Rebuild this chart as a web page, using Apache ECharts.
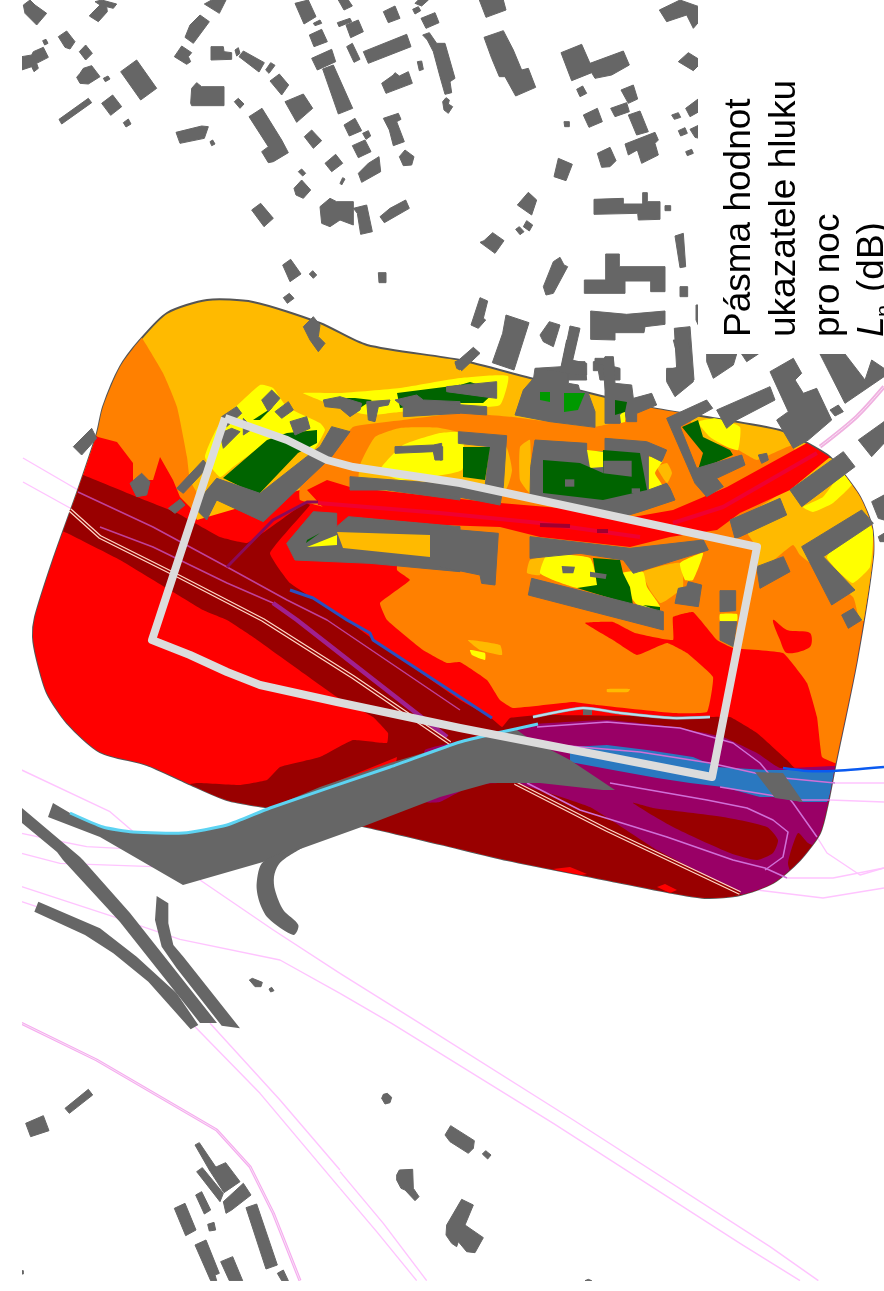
<!DOCTYPE html>
<html><head><meta charset="utf-8">
<style>html,body{margin:0;padding:0;background:#fff}#c{width:884px;height:1291px}</style>
<script src="https://cdn.jsdelivr.net/npm/echarts@6/dist/echarts.min.js"></script>
</head><body><div id="c"></div>
<script>
const shift=(x0,y0,list)=>list.map(p=>p.map(([x,y])=>[x0+x/3,y0+y/3]));

// noise-zone geometry (map units)
const zoneOutline=[[207,300],[167,313],[140,340],[120,367],[103,407],[97,433],[78,490],[53,560],[35,617],[33,637],[37,660],[47,693],[67,723],[100,752],[147,765],[187,783],[227,800],[270,808],[367,827],[440,844],[507,860],[607,880],[673,893],[707,898],[740,895],[773,883],[800,860],[820,833],[828,803],[835,767],[857,660],[873,557],[872,527],[860,497],[843,473],[830,457],[807,443],[780,430],[707,417],[647,407],[530,378],[460,360],[367,345],[320,323],[253,302]];
const orangeWest=[[135,330],[142,338],[163,373],[177,407],[187,457],[190,480],[200,500],[190,530],[70,500],[60,400]];
const redMain=[[85,428],[98,437],[117,442],[133,463],[133,480],[153,480],[160,457],[173,480],[180,497],[190,507],[197,520],[300,490],[330,480],[400,500],[500,510],[640,520],[720,500],[810,445],[830,460],[880,500],[880,930],[650,930],[300,860],[0,800],[0,500]];
const orangeCentre=[[300,487],[330,457],[353,427],[403,420],[460,413],[513,417],[593,427],[625,420],[647,403],[685,410],[700,440],[733,447],[757,460],[793,445],[800,470],[880,480],[880,770],[835,763],[822,757],[817,717],[807,683],[783,653],[733,648],[717,640],[693,612],[673,617],[673,640],[635,633],[613,622],[585,623],[613,640],[637,655],[667,643],[687,653],[713,677],[707,712],[673,713],[597,705],[573,702],[513,708],[500,700],[487,680],[460,662],[447,663],[423,650],[387,620],[380,603],[410,580],[397,570],[400,530],[300,500]];
const redBlobs=[[[773,620],[787,630],[810,633],[810,647],[787,653],[780,640]]];
const roadRed=[[307,490],[327,480],[350,487],[440,497],[500,503],[560,508],[633,517],[673,510],[727,487],[807,443],[830,457],[790,490],[740,513],[717,530],[670,537],[630,547],[540,537],[500,527],[440,525],[330,515]];
const darkRed=[[60,468],[83,475],[137,497],[177,513],[220,537],[247,543],[267,530],[305,503],[310,505],[270,553],[290,583],[347,620],[370,637],[460,700],[490,717],[502,727],[510,718],[540,715],[707,717],[730,717],[757,733],[787,760],[795,768],[880,768],[880,930],[250,900],[170,790],[197,783],[240,785],[267,780],[280,767],[320,757],[353,740],[387,743],[388,733],[373,717],[337,697],[253,637],[227,620],[203,610],[120,560],[67,533],[40,520]];
const purple=[[425,750],[520,730],[537,724],[607,720],[673,727],[723,737],[757,753],[780,768],[880,768],[880,920],[750,920],[742,895],[657,850],[590,807],[515,783],[473,785],[440,802],[425,802]];
const darkRedIslands=[[[633,803],[653,808],[723,817],[767,827],[778,840],[773,853],[757,860],[730,853],[673,827]],[[798,833],[788,863],[793,875],[820,850],[808,843]]];
const blueBand=[[570,747],[607,745],[647,750],[693,757],[717,767],[767,770],[880,770],[880,793],[830,795],[827,802],[803,802],[773,797],[760,797],[723,787],[690,783],[657,778],[613,770],[570,762]];
const redSpots=[[[553,869],[570,867],[587,874],[575,876]],[[657,887],[665,884],[677,890],[670,893]],[[305,796],[340,780],[380,764],[397,757],[396,763],[342,785]]];
const goldPatches=[[[360,465],[375,437],[400,428],[440,428],[505,445],[512,470],[505,490],[360,490]],
 [[775,497],[800,470],[830,458],[880,480],[880,620],[860,620],[853,597],[800,555],[793,545],[760,570],[755,545],[740,520]],
 [[530,560],[547,557],[540,575],[527,573]],[[643,572],[680,563],[683,587],[667,600],[660,603],[650,590]],
 [[520,447],[530,440],[530,493],[520,480]],[[468,640],[500,645],[502,655],[480,650]],[[607,689],[630,689],[628,692],[607,692]],
 [[657,467],[667,463],[672,473],[667,483]]];
const yellowPatches=[[[303,393],[340,393],[400,388],[460,378],[508,376],[500,405],[460,408],[400,412],[370,415],[345,410],[327,403]],
 [[205,457],[220,423],[260,385],[273,388],[287,407],[320,423],[325,430],[313,450],[277,437],[233,467],[220,477]],
 [[380,470],[403,445],[440,433],[462,433],[462,470],[400,480]],
 [[803,507],[823,497],[842,473],[853,483],[833,503],[813,512]],[[827,557],[860,513],[873,530],[870,567],[853,583],[840,573]],
 [[698,422],[717,418],[740,427],[738,450],[727,447],[710,437]],
 [[547,555],[590,558],[597,587],[577,588],[553,580],[540,573]],[[623,573],[643,572],[647,587],[660,607],[640,607],[633,600]],[[680,563],[703,553],[693,580],[685,580]],
 [[648,457],[663,460],[655,473],[663,487],[647,490]],[[470,650],[485,653],[485,660],[472,655]],[[720,614],[737,614],[737,621],[720,621]]];
const greenPatches=[[[223,478],[267,440],[287,433],[317,430],[317,443],[298,453],[258,495]],[[253,420],[273,407],[260,420]],
 [[333,398],[355,398],[372,400],[360,408],[335,406]],[[397,393],[460,385],[470,382],[497,390],[483,403],[440,403],[400,408]],
 [[682,427],[698,420],[703,437],[730,450],[733,455],[698,470],[703,453],[690,437]],
 [[593,558],[620,560],[623,573],[630,587],[633,605],[577,588],[597,585]],[[643,605],[660,607],[660,612]]];
const yardGreen=[[[463,447],[490,447],[485,480],[463,477]],[[543,460],[580,463],[603,473],[603,450],[640,453],[647,490],[603,500],[543,493]],[[615,400],[627,402],[625,412],[615,415]],[[307,540],[320,533],[306,543]]];
const yardBrightGreen=[[[540,392],[550,392],[550,402],[540,400]],[[564,393],[585,393],[578,410],[564,412]]];
const yardYellow=[[[587,450],[605,452],[603,467],[590,468]],[[307,547],[337,535],[337,545],[307,547]],[[620,415],[625,410],[625,422],[621,423]]];
const yardGold=[[[337,532],[430,535],[430,557],[343,548]]];

// buildings, read per map sheet
const buildingsNorthWest=shift(20,0,[[[10,15],[30,0],[45,15],[80,40],[50,75],[15,40]],[[215,40],[240,15],[225,5],[245,0],[290,12],[280,25],[260,20],[262,35],[235,65],[208,48]],[[115,110],[140,93],[165,125],[150,147],[135,142]],[[68,122],[78,118],[84,130],[74,135]],[[178,155],[197,135],[217,160],[197,180]],[[5,170],[35,165],[40,155],[70,142],[85,172],[50,190],[55,205],[42,215],[35,200],[5,210]],[[180,220],[190,205],[215,197],[240,230],[205,252],[180,250],[170,232]],[[250,235],[264,228],[270,237],[256,245]],[[302,215],[350,180],[410,265],[362,300]],[[117,358],[205,295],[215,308],[125,372]],[[245,310],[278,285],[305,320],[272,346]],[[310,368],[325,357],[333,372],[318,381]],[[553,12],[575,0],[618,0],[598,40]],[[510,75],[540,45],[568,65],[520,130],[495,112]],[[463,170],[485,138],[515,158],[505,170],[512,185],[500,193]],[[573,140],[610,140],[612,155],[635,158],[635,178],[573,180]],[[645,150],[655,143],[660,160],[650,168]],[[657,170],[670,153],[733,188],[717,216]],[[737,210],[752,188],[765,196],[747,220]],[[750,243],[778,222],[806,255],[785,285]],[[795,305],[850,282],[878,325],[830,367]],[[512,310],[515,265],[530,248],[545,260],[612,260],[612,317],[515,317]],[[643,305],[655,295],[672,312],[660,325]],[[687,350],[726,325],[785,420],[805,458],[760,485],[745,488],[725,455],[745,440]],[[468,397],[545,378],[565,380],[553,415],[480,430]],[[570,425],[578,420],[585,432],[575,437]],[[853,410],[875,390],[905,422],[880,445]],[[915,490],[947,463],[968,490],[935,515]],[[835,515],[845,507],[857,520],[848,528]],[[960,550],[968,533],[975,537],[965,555]],[[822,565],[845,540],[872,570],[850,595],[828,585]],[[695,630],[722,610],[760,655],[732,680]],[[900,620],[930,595],[950,605],[1000,605],[1000,675],[960,660],[930,680],[905,670]],[[788,795],[812,778],[843,822],[810,845],[800,822]],[[868,822],[878,812],[890,825],[880,835]],[[790,893],[808,880],[822,895],[802,910]],[[825,10],[865,0],[888,50],[852,72]],[[880,70],[900,60],[905,70],[885,77]],[[868,105],[905,88],[922,125],[882,140]],[[875,175],[935,148],[947,185],[892,210]],[[908,207],[940,195],[998,325],[955,342]],[[955,0],[985,0],[997,18],[972,30]],[[952,68],[990,55],[995,65],[957,80]]]);
const buildingsNorth=shift(340,0,[[[130,35],[165,18],[180,55],[145,68]],[[218,28],[235,20],[242,32],[225,42]],[[225,10],[235,0],[265,0],[245,18]],[[243,55],[285,38],[297,68],[258,85]],[[418,0],[490,0],[498,30],[438,52]],[[70,155],[200,103],[213,140],[85,190]],[[20,140],[37,130],[60,178],[42,187]],[[18,75],[55,60],[70,95],[32,113]],[[232,185],[245,183],[250,208],[238,212]],[[125,250],[160,225],[165,218],[178,228],[205,215],[217,250],[138,280]],[[248,105],[268,98],[290,130],[315,130],[345,235],[330,245],[335,278],[315,283],[300,230],[280,155],[262,120]],[[308,305],[318,293],[328,300],[325,312],[338,320],[325,340],[312,330]],[[432,112],[490,92],[520,150],[545,210],[565,205],[587,262],[527,288],[495,230],[478,230],[455,175]],[[663,158],[725,133],[750,190],[850,153],[868,195],[815,225],[765,235],[755,218],[695,242]],[[710,268],[728,258],[740,280],[720,290]],[[843,270],[880,255],[893,297],[865,310]],[[812,325],[860,308],[868,335],[825,350]],[[730,345],[772,325],[787,365],[747,382]],[[672,365],[688,365],[688,380],[674,380]],[[865,345],[900,333],[925,395],[890,405]],[[855,432],[945,397],[955,420],[945,430],[955,465],[905,490],[892,450],[865,465]],[[772,460],[810,442],[828,482],[810,500],[785,502]],[[995,345],[1015,338],[1022,352],[1003,358]],[[1015,392],[1035,383],[1042,400],[1022,408]],[[1037,325],[1077,295],[1077,335],[1050,350]],[[1050,388],[1077,375],[1077,415],[1065,412]],[[1037,455],[1055,448],[1060,460],[1042,467]],[[1015,185],[1045,158],[1077,178],[1077,195],[1060,212]],[[958,30],[1020,0],[1077,20],[1077,65],[1060,85],[1040,45],[980,65]],[[642,530],[655,475],[697,493],[678,542]],[[532,615],[565,577],[590,600],[575,645]],[[560,662],[578,675],[568,693],[550,680]],[[527,688],[538,680],[552,695],[540,704]],[[420,727],[432,722],[458,698],[492,722],[465,760]],[[115,818],[138,818],[138,848],[117,848]],[[610,860],[640,785],[660,772],[672,795],[683,800],[640,880],[618,885]],[[762,598],[850,595],[850,612],[908,612],[908,578],[922,578],[922,605],[960,605],[960,658],[895,660],[893,640],[762,643]],[[975,617],[992,617],[992,632],[975,632]],[[1005,708],[1030,700],[1037,800],[1020,803]],[[797,762],[838,762],[838,800],[975,800],[975,875],[932,875],[932,843],[855,843],[855,880],[733,880],[733,840],[797,840]],[[1020,860],[1043,860],[1043,890],[1020,890]],[[752,933],[860,943],[975,933],[975,973],[915,980],[912,998],[825,998],[825,1020],[752,1018]],[[393,975],[420,893],[443,903],[430,955],[437,960],[415,985]],[[498,945],[567,968],[522,1110],[457,1088],[488,1000]],[[600,1005],[628,965],[660,975],[640,1040],[610,1025]],[[665,1100],[690,978],[720,985],[697,1085],[735,1085],[740,1140],[580,1140],[585,1105]],[[760,1085],[790,1083],[795,1070],[820,1070],[822,1100],[840,1105],[840,1140],[780,1140],[775,1112],[760,1112]],[[1003,985],[1050,980],[1062,1140],[980,1140],[980,1105],[1010,1105]],[[1068,915],[1077,915],[1077,980],[1068,960]],[[40,625],[80,615],[97,695],[62,703],[52,640]],[[120,650],[150,625],[197,600],[208,625],[133,668]],[[68,400],[85,392],[92,408],[78,418]],[[37,437],[75,420],[93,455],[55,473]],[[130,355],[175,340],[183,358],[170,365],[193,425],[160,437],[148,390]],[[178,470],[195,450],[222,470],[215,495],[190,497]],[[55,520],[85,490],[117,470],[122,515],[65,547]],[[12,375],[45,355],[65,392],[28,408]]]);
const buildingsWestBlock=shift(20,300,[[[850,80],[880,50],[900,75],[895,110],[915,130],[895,155],[870,120]],[[160,440],[215,385],[230,415],[185,465]],[[330,550],[365,520],[390,545],[380,585],[350,590]],[[445,625],[480,598],[495,615],[465,640]],[[470,565],[550,480],[565,500],[490,580]],[[605,350],[650,320],[665,340],[620,380]],[[600,400],[635,385],[660,395],[610,445]],[[670,355],[700,385],[670,405]],[[725,300],[755,270],[780,295],[745,335]],[[765,335],[805,305],[820,330],[785,355]],[[810,365],[860,350],[870,385],[825,405]],[[590,535],[720,580],[860,470],[900,440],[935,380],[990,395],[935,470],[840,560],[730,665],[590,600],[560,660],[520,620]],[[910,300],[960,290],[1025,310],[1020,330],[990,350],[960,325],[915,320]],[[1040,305],[1110,300],[1105,315],[1075,320],[1065,365],[1045,360]],[[1125,300],[1190,285],[1210,300],[1320,305],[1320,340],[1150,350],[1150,320]],[[1280,265],[1320,255],[1320,275],[1285,275]],[[1305,185],[1320,180],[1320,210],[1310,205]],[[990,530],[1320,555],[1320,600],[1100,570],[990,570]],[[1125,440],[1240,435],[1265,430],[1265,480],[1245,480],[1240,455],[1125,460]],[[800,730],[880,635],[950,640],[950,680],[985,650],[1320,680],[1320,815],[1050,790],[825,780]]]);
const buildingsCentre=shift(440,340,[[[45,70],[100,22],[120,40],[65,92]],[[225,225],[250,150],[285,110],[290,85],[385,100],[385,130],[415,135],[420,155],[445,160],[465,215],[465,262],[330,245]],[[360,95],[380,0],[410,0],[395,60],[440,70],[440,105],[380,100]],[[490,75],[465,70],[465,55],[520,55],[525,130],[575,135],[580,175],[635,160],[650,195],[590,220],[590,245],[560,245],[555,215],[540,250],[495,250],[495,150]],[[680,235],[800,180],[818,205],[720,260],[770,385],[905,345],[915,375],[830,415],[850,440],[800,470],[765,430]],[[830,210],[990,140],[1005,180],[890,240],[860,265]],[[990,95],[1060,55],[1085,100],[1065,120],[1090,160],[1130,145],[1175,240],[1105,300],[1060,325],[1010,240],[1045,215]],[[1170,210],[1195,195],[1210,215],[1185,228]],[[55,275],[200,287],[190,440],[180,495],[0,460],[0,430],[135,440],[150,320],[55,310]],[[0,320],[8,320],[8,360],[0,360]],[[285,300],[440,310],[440,335],[495,335],[495,295],[620,305],[680,330],[665,365],[625,345],[625,450],[680,430],[690,445],[705,480],[600,515],[550,530],[400,510],[270,470],[272,380]],[[270,590],[570,625],[790,600],[805,630],[580,700],[550,660],[420,640],[270,655]],[[275,715],[670,815],[670,870],[265,765]],[[715,745],[740,740],[745,725],[785,735],[775,800],[705,790]],[[840,752],[887,752],[887,812],[840,815]],[[840,845],[890,845],[880,920],[840,900]],[[870,540],[1020,475],[1040,525],[900,590],[885,595]],[[1050,450],[1210,335],[1245,380],[1085,500]],[[1085,620],[1265,510],[1300,550],[1150,650],[1245,750],[1175,795]],[[950,680],[1030,650],[1050,695],[960,745]],[[1205,825],[1240,805],[1265,840],[1225,865]],[[955,345],[980,340],[985,360],[965,370]],[[0,565],[175,580],[165,735],[125,730],[120,705],[0,680]],[[800,42],[890,42],[880,75],[820,115],[800,65]],[[905,42],[955,42],[920,65]],[[1140,42],[1215,42],[1275,120],[1295,60],[1332,85],[1332,110],[1215,190]],[[1255,300],[1332,245],[1332,310],[1295,350]],[[1295,485],[1332,465],[1332,540],[1315,535]],[[1315,590],[1332,580],[1332,605],[1320,605]],[[20,140],[170,125],[170,175],[130,170],[20,155]],[[0,190],[140,200],[140,225],[0,215]],[[680,90],[720,80],[700,0],[745,0],[760,125],[705,170],[680,125]]]);
const innerBuildings=shift(440,340,[[[375,418],[403,418],[403,440],[375,440]],[[575,445],[600,445],[600,460],[575,460]],[[490,362],[575,362],[575,410],[490,400]],[[365,678],[405,680],[400,700],[368,700]],[[450,695],[500,703],[497,717],[450,710]]]);
const buildingsSouth=shift(20,860,[[[135,745],[205,688],[218,705],[148,760]],[[17,790],[70,767],[87,812],[32,830]],[[525,855],[538,848],[590,925],[568,930]],[[568,930],[617,908],[660,965],[612,998]],[[530,935],[547,923],[610,1000],[600,1025]],[[610,1025],[670,970],[693,1005],[635,1050],[618,1060]],[[527,1005],[545,995],[572,1050],[553,1062]],[[463,1045],[495,1030],[528,1110],[497,1127]],[[563,1093],[582,1087],[587,1110],[568,1113]],[[525,1155],[558,1140],[598,1240],[585,1245],[590,1262],[572,1262]],[[602,1205],[638,1190],[668,1262],[628,1262]],[[678,1043],[710,1032],[772,1215],[738,1227]],[[772,1240],[790,1230],[805,1262],[785,1262]],[[688,360],[697,355],[727,367],[723,380],[705,380]],[[747,387],[755,382],[762,392],[752,396]],[[5,1232],[10,1232],[10,1242],[5,1242]]]);
const buildingsSouthEast=shift(340,860,[[[125,715],[130,703],[142,700],[155,712],[150,728],[135,732]],[[315,825],[332,797],[403,842],[400,865],[385,880],[330,845]],[[427,882],[437,872],[453,885],[443,897]],[[170,945],[178,930],[218,928],[220,985],[237,1010],[225,1022],[195,990],[183,985],[170,960]],[[320,1095],[365,1018],[400,1035],[375,1095],[430,1133],[405,1178],[380,1175],[355,1145],[350,1160],[335,1150],[318,1125]],[[735,1262],[745,1258],[755,1262]]]);
const roads=[
 [[53,803],[70,813],[103,827],[133,832],[183,833],[227,825],[270,808],[320,787],[390,763],[440,748],[497,733],[517,730],[528,738],[570,760],[615,790],[603,790],[540,783],[490,783],[440,797],[367,825],[303,848],[263,862],[183,885],[100,837],[48,817]],
 [[22,808],[80,857],[83,860],[130,913],[217,1023],[200,1023],[120,922],[63,860],[57,852],[22,823]],
 ...shift(20,860,[[[43,155],[55,125],[240,205],[350,290],[470,400],[535,495],[512,508],[385,365],[280,280],[195,225]],[[410,108],[445,130],[445,190],[460,255],[490,290],[660,505],[605,497],[470,325],[425,260],[405,180]]]),
 [[755,772],[783,773],[803,802],[775,798]],[[583,708],[592,708],[592,715],[583,715]]];
const roadSpur=shift(20,620,[[[730,725],[850,680],[800,712],[775,735],[762,770],[765,810],[790,870],[835,915],[820,945],[745,895],[718,845],[710,790]]]);

// line work
const paleRoutes=[
 ...shift(20,620,[[[5,450],[270,575],[340,635]],[[5,640],[100,660],[200,680],[300,685]],[[5,700],[120,730],[400,740]]]),
 [[23,458],[78,490]],[[23,482],[70,508]],
 ...shift(20,860,[[[5,80],[280,170],[480,238],[780,300],[960,400]],[[5,125],[50,140]],[[540,60],[760,210],[960,340]],[[525,500],[720,700],[960,985]],[[570,490],[780,720],[960,930]]]),
 ...shift(340,860,[[[0,340],[240,490],[700,780],[1290,1160],[1435,1262]],[[0,400],[155,490],[640,790],[1200,1150],[1380,1262]],[[0,935],[130,1090],[260,1262]],[[0,985],[110,1115],[230,1262]]]),
 [[817,837],[827,853],[860,875],[884,868]],[[787,878],[833,878],[884,868]],[[757,890],[823,898],[884,888]],[[835,783],[884,783]],[[830,800],[884,802]]];
const railTrack=shift(20,860,[[[5,490],[230,600],[590,810],[690,920],[760,1060],[840,1262]]]);
const northEastTrack=shift(440,340,[[[1140,320],[1250,230],[1332,140]]]);
const magentaRoutes=[[[78,492],[153,527],[227,567],[287,600],[327,620],[460,710]],[[100,527],[153,547],[227,583],[273,603]]];
const innerPurpleRoutes=[[[537,727],[607,722],[680,728],[733,743],[760,763],[793,803],[817,837]],[[557,745],[640,752],[710,763],[773,777],[835,783]],[[610,783],[707,800],[747,808],[773,820],[788,832],[783,857],[765,870]],[[527,783],[580,810],[667,837],[733,860],[765,868],[787,878]],[[720,787],[800,800],[830,800]]];
const thickPurple=[[[273,603],[297,620],[370,677],[447,737]]];
const whiteRail=[[[70,510],[100,537],[180,577],[263,620],[353,677],[450,743]],[[515,783],[607,830],[740,893]]];
const spurLine=[[[227,567],[273,520],[307,502],[318,502]]];
const roadCore=[[[318,503],[440,513],[540,523],[640,537]],[[673,523],[723,507],[817,453]]];
const roadDark=[[[540,525],[570,526]],[[597,531],[608,531]]];
const blueLine=[[[290,590],[313,598],[347,620],[370,633],[373,640],[460,697],[492,718]]];
const brightBlueLine=[[[783,768],[807,771],[833,771],[884,767]]];
const cyanLine=[[[70,813],[103,827],[133,832],[183,833],[227,825],[270,808],[390,767],[460,742],[497,733],[538,724]]];
const barrierLine=[[[533,717],[583,708],[620,713],[673,718],[710,717]]];
const studyArea=[[[225,418],[287,440],[327,460],[353,467],[460,483],[757,547],[712,777],[460,728],[337,702],[260,685],[227,672],[190,655],[152,640],[225,418]]];
const whiteMasks=[[[698,0],[884,0],[884,354],[698,354]],[[0,0],[22,0],[22,1291],[0,1291]],[[0,1281],[884,1281],[884,1291],[0,1291]]];

// legend text
const legendLines=["Pásma hodnot","ukazatele hluku","pro noc"];
const legendSymbol="L";
const legendSubscript="n";
const legendUnit="(dB)";

const GRAY='#666666',GOLD='#FFBA00',ORANGE='#FF8000',RED='#FF0000',DARK='#990000',PURPLE='#990066',BLUE='#2A78C0',YEL='#FFFF00',GREEN='#006400';
const series=[];
function outlineClip(api){return {type:'polygon',shape:{points:zoneOutline.map(p=>api.coord(p)),smooth:0.25}};}
function polys(name,list,color,opt){opt=opt||{};
 series.push({type:'custom',name,coordinateSystem:'cartesian2d',silent:true,animation:false,clip:false,data:list.map((_,i)=>[i,0]),
  renderItem(params,api){const el={type:'polygon',shape:{points:list[params.dataIndex].map(p=>api.coord(p)),smooth:opt.smooth||0},
    style:{fill:color,stroke:opt.stroke||null,lineWidth:opt.lineWidth||0}};
    if(opt.clip)el.clipPath=outlineClip(api);return el;}});}
function lines(name,list,color,width,opt){opt=opt||{};
 series.push({type:'custom',name,coordinateSystem:'cartesian2d',silent:true,animation:false,clip:false,data:list.map((_,i)=>[i,0]),
  renderItem(params,api){const el={type:'polyline',shape:{points:list[params.dataIndex].map(p=>api.coord(p)),smooth:opt.smooth||0},
    style:{fill:null,stroke:color,lineWidth:width,lineJoin:'round'}};
    if(opt.clip)el.clipPath=outlineClip(api);return el;}});}

lines('pale routes',paleRoutes,'#FFC4FF',1.4);
lines('rail outer',railTrack,'#F8A8F0',3);lines('rail inner',railTrack,'#F4E8F4',1);
lines('ne track',northEastTrack,'#F0B0E0',4,{smooth:0.3});lines('ne track inner',northEastTrack,'#F8E4F4',1,{smooth:0.3});
polys('zone',[zoneOutline],GOLD,{smooth:0.25,stroke:'#555555',lineWidth:2});
polys('orange west',[orangeWest],ORANGE,{clip:1,smooth:0.15});
polys('red',[redMain],RED,{clip:1});
polys('orange centre',[orangeCentre],ORANGE,{clip:1,smooth:0.1});
polys('red blobs',redBlobs,RED,{clip:1,smooth:0.3});
polys('gold',goldPatches,GOLD,{clip:1,smooth:0.15});
polys('yellow',yellowPatches,YEL,{clip:1,smooth:0.15});
polys('green',greenPatches,GREEN,{clip:1});
polys('road noise',[roadRed],RED,{clip:1});
polys('dark red',[darkRed],DARK,{clip:1,smooth:0.1});
polys('purple',[purple],PURPLE,{clip:1,smooth:0.1});
polys('dark islands',darkRedIslands,DARK,{clip:1,smooth:0.2});
polys('blue band',[blueBand],BLUE,{clip:1});
polys('red spots',redSpots,RED,{clip:1});
lines('road core',roadCore,'#F00030',4);
lines('road dark',roadDark,'#A00030',4);
lines('magenta',magentaRoutes,'#C0409A',1.5);
lines('inner purple',innerPurpleRoutes,'#D070D8',1.5);
lines('thick purple',thickPurple,'#A0208F',4.5);
lines('rail a',whiteRail,'#FFD8C8',4);lines('rail b',whiteRail,DARK,1.6);
lines('spur',spurLine,'#8B0A5A',3);
lines('blue',blueLine,'#2A50C0',3);
lines('bright blue',brightBlueLine,'#0A5AF0',2.5,{smooth:0.2});
[['nw',buildingsNorthWest],['n',buildingsNorth],['w',buildingsWestBlock],['c',buildingsCentre],['s',buildingsSouth],['se',buildingsSouthEast]].forEach(([n,b])=>polys('buildings '+n,b,GRAY,{stroke:GRAY,lineWidth:1}));
polys('roads',roads,GRAY);
polys('road spur',roadSpur,GRAY,{smooth:0.3});
polys('yard gold',yardGold,GOLD);polys('yard yellow',yardYellow,YEL);polys('yard green',yardGreen,GREEN);polys('yard bright',yardBrightGreen,'#009900');
polys('inner buildings',innerBuildings,GRAY);
lines('barrier edge',barrierLine,'#8FA0A8',3.2,{smooth:0.2});lines('barrier',barrierLine,'#B8E0F0',1.8,{smooth:0.2});
lines('cyan',cyanLine,'#5DD3F2',3,{smooth:0.2});
lines('study area',studyArea,'#DCDCDC',8);
polys('masks',whiteMasks,'#FFFFFF');
// legend text, rotated to read upward
function textEl(api,txt,x,y,size,italic){const c=api.coord([x,y]);
 return {type:'text',x:c[0],y:c[1],rotation:Math.PI/2,style:{text:txt,fill:'#000',font:(italic?'italic ':'')+size+'px "Liberation Sans"',textAlign:'left',textVerticalAlign:'bottom',verticalAlign:'bottom'}};}
series.push({type:'custom',name:'legend',coordinateSystem:'cartesian2d',silent:true,animation:false,clip:false,data:[[0,0]],
 renderItem(p,api){return {type:'group',children:[
  textEl(api,legendLines[0],758,337,37),textEl(api,legendLines[1],803,337,37),textEl(api,legendLines[2],847,337,37),
  textEl(api,legendSymbol,891,337,37,true),textEl(api,legendSubscript,896,317,22),textEl(api,legendUnit,891,292,37)]};}});

const chart=echarts.init(document.getElementById('c'),null,{renderer:'canvas',width:884,height:1291});
chart.setOption({animation:false,backgroundColor:'#fff',
 grid:{left:0,right:0,top:0,bottom:0},
 xAxis:{type:'value',min:0,max:884,show:false},
 yAxis:{type:'value',min:0,max:1291,inverse:true,show:false},
 series});
</script></body></html>
